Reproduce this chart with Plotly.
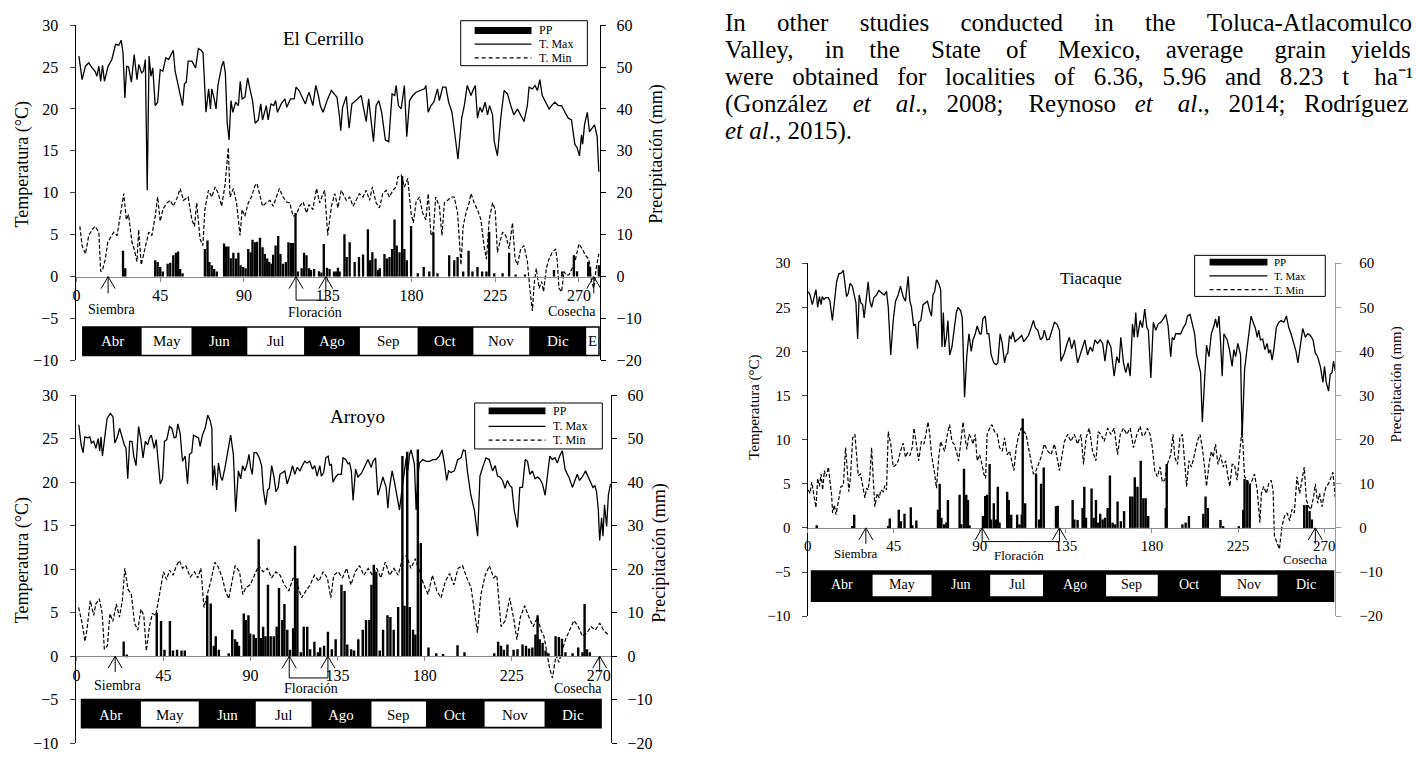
import plotly.graph_objects as go

SERIF = "Liberation Serif"
W, H = 1416, 762

# ======================= DATA =======================
# ---------- El Cerrillo ----------
cer_tmax_day = [1.3,3,4.8,6.6,8.4,10,11,12,13,14,15,17,19,21,22.7,24,25,26,27,28,29.5,31,32.5,33.5,35,36,37,38,39,40,41,42.3,43.6,45,46.4,48,49.5,51,52,53,54,55.7,57,58,59,60,62,64,65.5,67,68,69.6,71,72,72.7,74,75,76,78,79,80,81,82,83,84,85.5,87,88,89,90.5,92,93,94.6,96,97.7,99,100,102,103,104.5,106,107,108,110,112,113,115,117,118,119.6,121,123,124,125,127,128.6,130,131,132.5,134,135,137,139,140,141.4,142,143,145,146.5,148,149,151,153,154,155.7,157,159.6,161,162.5,164,166,167.8,169.6,171,171.8,173,174.5,176.2,177.5,179,180.7,182.5,185,187,187.8,189,190.5,192,194,195,196.8,198.5,200,201.8,203.6,205,207,208.4,210,212,213,214.3,215.5,216.8,218,219.6,220.9,222,223.6,224.5,226.2,228,229.8,231.6,233.4,235,237,238.7,240.5,242.3,243.2,245,246.4,247.7,249,250.3,252,254,255.3,257,258.9,260.7,262.5,264.3,266,267.8,269,270.3,271.4,272,273,274.5,275.7,277,278.4,279.8,280.7]
cer_tmax = [26.3,23.5,25.1,25.5,24.9,24.5,23.9,25.1,23.3,25.2,23.3,25.1,25.9,27.7,27.6,28.2,26.7,21.3,25.1,25.0,23.2,26.5,23.5,25.3,24.3,24.5,25.9,10.3,26.3,23.9,24.9,20.4,20.8,24.7,24.5,26.1,25.9,26.7,27.0,24.5,23.5,22.0,20.4,23.0,23.2,25.7,25.7,24.9,27.2,27.0,26.7,19.6,22.4,20.0,22.4,21.2,20.0,22.8,25.1,25.7,24.3,18.3,16.3,21.0,19.6,20.8,20.4,23.3,21.2,21.4,23.7,22.6,21.0,18.3,18.7,20.6,18.7,20.4,18.7,20.6,20.4,21.0,19.6,20.6,21.2,20.2,21.2,21.2,22.6,22.2,21.6,20.6,21.4,22.0,20.4,22.8,21.6,20.4,19.6,20.6,21.2,22.2,21.6,21.4,19.0,17.4,20.2,21.5,17.7,20.6,20.8,21.2,21.6,20.4,18.5,21.2,16.1,20.4,21.0,19.6,16.3,16.1,21.8,21.6,22.8,20.4,20.0,22.8,16.7,21.0,21.6,22.0,22.2,22.4,22.8,19.6,20.4,20.8,22.4,21.0,22.6,22.6,20.8,19.6,16.5,14.0,18.9,20.4,22.8,21.6,22.2,22.8,18.9,20.2,19.6,20.8,19.3,20.4,19.3,16.1,14.4,18.9,22.2,21.8,20.4,19.3,20.0,19.3,18.5,20.4,22.6,22.4,22.8,22.2,23.5,21.6,20.8,20.0,20.4,20.8,20.4,20.4,19.6,18.9,18.7,15.8,15.4,14.4,16.9,15.8,18.1,19.6,17.3,17.7,18.1,16.7,12.5]
cer_tmin_day = [1.8,3,4.8,6.6,8.4,10,12,13,14,15.5,16.8,18,20,21.8,23.6,25.4,26.8,28,29.8,31,32.5,33.4,34.8,36,37.5,38.8,40.5,42.3,43.6,45,46.4,48.6,50.4,52,53.9,55.7,57.5,60,62,63.4,64.6,66.4,67.9,69,70.9,72.7,74.5,76.2,78,79.8,81.6,82.5,84.3,86,87.9,89,90.5,92.3,94,96,97,98.6,100,102,104,105.7,107.5,109,111,112.9,114.6,116.4,118,120,121.8,123.6,125,127,129,130.7,132.5,133.4,135,137,138.8,140.5,142.3,145,146.8,148.6,150.3,152,154,155.7,157.5,159,161,162.8,164.6,166.4,168.2,170,171.8,172.7,174.5,176.2,178,179.8,181,182.5,184.3,186,187.8,189,190.5,191.8,193,195,196.4,197.7,199.5,201.2,203,204.8,206.6,207.8,209.3,211,212,213.7,215.5,217.3,219,220.3,221.8,223.6,225,226.2,227.5,229,230.7,232.5,234.3,235.7,237,238.7,240.5,242.3,243.6,245,245.9,247.1,248.6,250,251,252.5,253.9,255.7,257.5,258.4,259.3,260.7,262,263.2,264.6,266.4,268.2,270,271.8,273.6,275.3,276.8,278,279.3,280.7]
cer_tmin = [6.0,3.7,2.7,4.9,5.6,6.0,5.3,0.6,0.8,2.1,4.1,4.5,5.3,4.9,7.2,9.9,6.8,7.4,4.1,3.3,1.8,5.6,1.4,2.5,4.1,5.3,4.9,7.2,9.5,6.6,8.0,8.8,9.1,8.4,9.3,10.5,9.1,9.5,6.8,6.0,8.8,4.5,3.7,8.0,10.3,9.5,10.7,9.9,8.4,10.9,15.4,9.5,10.5,8.8,4.9,8.0,7.2,8.8,9.5,10.9,11.1,9.5,8.4,8.8,9.1,8.4,9.5,10.5,9.5,8.9,8.8,7.2,7.4,8.4,8.9,7.6,8.6,8.0,10.5,8.8,9.9,10.3,4.9,8.4,9.9,8.2,10.3,9.1,9.5,8.4,9.1,9.9,9.5,10.3,9.1,10.7,8.8,8.2,9.9,10.3,9.5,10.3,10.7,11.9,12.1,10.7,11.7,7.6,6.4,8.9,9.5,7.6,6.8,9.9,4.9,5.3,9.5,8.4,4.9,8.8,9.1,9.5,9.5,7.6,1.4,6.0,7.6,8.8,9.9,8.8,8.0,6.8,3.7,2.1,6.8,8.8,8.0,2.9,4.1,5.3,4.9,3.3,6.4,2.1,1.4,3.3,3.7,1.8,-1.4,-4.1,-1.0,1.0,-1.4,-0.6,-1.8,1.0,2.1,2.9,3.3,1.8,-1.4,-1.8,0.6,0.2,0.2,1.0,2.1,3.9,3.3,2.5,2.1,-0.6,-1.4,1.0,2.7]
cer_pp_day = [25,26.2,42.3,43.6,45,46.4,49,50.4,52,53.4,54.6,55.7,57,69,70.4,71.4,72.7,74,75.4,79.3,80.4,81.6,82.9,84.3,85.7,87,88.2,89.6,90.9,92.3,93.6,94.6,95.9,97,98.6,100,101.2,102.5,103.6,104.8,105.7,107,108.4,109.6,111,112.5,113.9,115.2,116.4,117.7,119,121,122.3,123.6,125,126,127.7,130.3,131.6,132.9,134.6,136,138.4,139.6,140.5,141.4,144,145.2,146.8,149.5,151.8,154,156.6,157.8,159,160.7,162,163,165.5,166.8,168.2,169.6,170.9,172.1,173.6,175,176.2,177.5,179.8,183.4,186.6,189.6,191.8,194,200.3,203,204.8,207.8,210.7,212.8,215.5,218,220.3,221.8,224.5,229,232.5,236,241,256.6,261,267.3,269,275,276,280.7]
cer_pp = [6.2,2.0,3.9,3.5,2.3,1.2,3.1,3.3,5.1,5.7,6.0,1.8,0.8,6.6,8.6,3.5,2.7,1.8,1.2,7.9,7.2,7.2,4.4,5.7,4.3,5.7,2.7,2.3,2.0,6.6,5.8,8.8,8.2,8.3,9.3,7.0,5.4,4.3,3.5,3.1,5.2,7.4,9.7,5.4,3.1,3.5,8.2,8.0,8.0,15.2,1.2,2.0,5.7,5.1,2.0,1.6,1.8,1.3,1.0,7.8,2.1,1.8,1.2,1.2,2.1,1.2,10.1,4.7,8.2,3.5,4.7,5.3,11.3,3.9,5.8,4.3,1.6,2.0,5.4,4.3,4.7,6.6,13.6,7.4,5.8,24.0,6.6,3.9,12.1,0.8,2.3,1.2,10.5,0.8,5.1,3.9,4.7,1.2,6.2,1.2,2.3,1.2,1.2,10.7,0.8,0.8,5.7,0.5,0.5,1.6,1.2,5.1,1.3,3.5,2.3,2.7]

# ---------- Arroyo ----------
aro_tmax_day = [1.2,2.4,3.4,4.3,5.8,6.9,7.7,8.9,10,11.2,12,12.7,13.4,14.6,15.8,17.5,18.9,19.8,21,22.3,23.5,24.7,25.6,26.5,27.5,28.7,29.6,30.8,32.1,33.3,34.4,35.6,36.8,37.8,38.7,39.5,40.2,41.2,42.1,43.3,44.5,45.5,46.7,48.1,49.3,50.5,51.5,52.4,53.6,54.8,56.2,57.4,58.4,59.6,60.5,61.9,63.1,63.9,65.1,66.5,67.9,69.1,70,70.4,71.3,72.5,73.4,74.6,75.4,76.8,78,79.7,81.1,82.3,83.7,84.9,85.9,87.1,88.3,89.2,90,90.9,91.8,93.1,94.5,95.7,96.6,97.8,98.8,99.7,100.9,102.1,103.1,104.3,105.2,106.5,107.7,108.9,110.3,111.7,112.9,114.1,115.5,116.8,118,119.2,120.6,122,123.2,124.4,125.8,126.6,127.8,128.9,130.1,130.9,131.8,132.6,134,135.2,136.9,137.8,139.2,140.4,141.2,142.1,143,144.3,145.5,147.3,149,150.7,152.4,153.3,154.6,155.8,157,158.4,160.1,161,161.9,163.2,164.4,166.2,167,168.4,169.6,170.5,171.3,172.2,173,173.9,174.7,175.6,176.5,177.3,179,180.8,182.5,184.2,185.9,187.6,189,190.2,191.4,192.4,193.6,195.4,197.1,198.8,200,201,202.2,203.9,205.7,207.4,208.6,210,211.7,213.4,215.1,216.5,217.7,218.9,220.3,221.6,222.8,224.1,225.1,226.3,228,229.2,230.6,232,233.2,234.4,235.7,237.1,238.3,239.5,240.9,242.3,243.5,244.7,246,247.4,248.6,249.8,251.2,252.6,253.8,254.6,256.4,257.7,258.9,260.1,261.5,263.2,264.6,265.8,267,268,268.9,269.8,270.5,271.5,272.2,273,274.1,275,276.1]
aro_tmax = [26.6,24.3,23.4,25.2,25.1,25.2,24.5,24.7,23.9,25.0,23.6,25.2,23.0,24.9,27.3,27.9,27.5,24.5,25.1,26.2,25.1,24.3,23.9,20.4,24.7,24.7,23.0,21.9,26.4,24.9,22.8,24.7,24.3,25.1,25.4,24.7,23.9,24.9,22.6,19.8,20.4,24.7,24.9,26.4,26.2,25.1,25.2,26.7,25.6,22.4,23.0,19.8,23.2,23.4,25.4,25.2,25.1,24.1,25.4,26.2,27.7,27.1,26.2,19.6,21.9,19.1,22.2,20.6,20.2,21.7,23.2,25.4,23.2,16.6,21.3,20.4,21.9,21.3,22.2,23.2,21.7,20.9,23.4,23.4,22.8,21.9,19.1,17.4,19.1,19.3,21.9,20.6,18.9,19.4,20.9,21.1,21.3,19.8,20.7,21.9,20.9,21.7,21.3,21.9,22.4,22.2,22.4,21.5,21.9,20.7,21.9,20.7,21.1,22.8,23.0,21.9,22.1,20.0,20.6,20.9,20.9,22.8,22.6,22.1,22.2,21.3,17.9,21.5,20.6,21.0,21.9,22.6,21.7,22.4,22.8,18.5,19.4,20.6,19.4,17.0,19.4,21.3,20.0,17.6,16.8,19.4,21.7,22.8,21.3,23.2,23.7,22.6,22.1,16.8,20.6,22.2,22.6,22.4,22.4,22.6,22.6,23.0,23.7,22.2,20.2,21.3,21.1,21.3,22.6,22.8,23.7,23.6,21.1,18.5,16.8,13.8,20.7,21.7,22.8,22.6,21.3,21.9,20.7,20.6,20.2,19.3,20.2,19.6,19.4,16.8,14.8,19.4,19.4,22.6,22.4,20.9,21.3,20.4,20.6,20.4,19.8,18.5,20.6,23.0,22.6,22.8,22.2,23.0,23.6,21.5,20.9,20.6,19.4,20.2,20.9,20.2,20.6,21.3,20.6,20.2,19.4,19.6,18.9,16.8,13.3,15.9,13.8,17.4,14.9,18.5,19.8]
aro_tmin_day = [1.1,2.9,4.4,5.5,7.1,8.9,10,11.8,13.3,14.4,16,17.3,18.8,20.6,22.2,23.7,25,26.6,28.4,30,31.7,33.3,34.8,36.1,37.7,39.2,41,42.6,43.7,45,46.6,48.1,49.9,51.7,53.2,54.8,56.5,58.8,61,62.7,64.3,65.9,67.6,69.4,71.6,73.2,75.4,77,78.7,80.5,82,84.3,86,87.6,89.8,92,94.2,96.5,98.7,100.9,103.1,105.3,107.5,109.8,112,114.2,116.4,118.6,120.8,123,125.3,127.5,129.7,131.5,133,135.3,137.5,139.7,141.9,144.1,146.3,148.6,150.8,153,155.2,157.4,159.6,161.9,164.1,166.3,168.5,170.7,172.9,175.2,177.4,179.6,181.8,184,186.3,188.5,190.7,192.9,195.1,197.3,199.6,201.8,204,206.2,207.3,209.1,211.3,213.5,215.7,217.3,219.5,221.7,224,226.2,227.7,229.5,231.7,233.9,236.1,238.4,240.1,241.7,243.2,244.6,246.1,247.9,249.4,251,252.8,255,257.2,259.4,261.6,263.9,266,268.3,270.5,272.7,274.9]
aro_tmin = [5.6,3.8,1.7,3.2,6.4,4.7,6.0,6.6,4.9,0.8,1.2,4.9,4.0,6.0,4.5,6.4,10.1,7.7,7.1,3.8,3.0,5.4,4.7,0.6,3.4,4.9,4.7,6.6,8.2,9.7,8.8,9.9,9.3,10.4,11.0,10.1,10.4,9.1,9.7,9.0,10.1,5.6,7.1,8.6,10.8,10.3,9.0,7.5,6.6,8.6,10.4,9.7,7.1,7.9,8.2,9.3,10.4,9.7,10.1,9.0,9.7,9.3,8.2,7.5,9.0,8.2,6.7,7.5,8.2,9.3,8.6,9.7,9.0,6.7,9.3,9.7,9.0,10.1,8.2,9.7,10.4,9.3,10.1,9.3,10.1,9.0,10.8,9.3,10.1,9.3,11.2,11.6,10.1,11.2,9.7,8.2,7.1,9.3,7.5,6.7,8.6,9.5,8.2,10.1,10.4,9.0,7.9,4.1,2.7,7.1,9.3,10.4,9.0,9.3,3.4,4.1,6.7,4.1,1.9,4.5,5.8,4.5,3.4,4.5,3.0,2.3,0.4,-1.4,-2.5,0.1,-0.7,0.4,1.9,3.0,4.1,3.4,2.3,2.7,3.4,3.0,3.8,2.9,2.5]
aro_pp_day = [24.4,26,41.5,43.7,45.5,48.3,49.9,52,54.3,56,67.6,69.4,71,72,73.6,78.7,80.5,82,83,84,86.5,87.6,88.9,89.8,91.6,92.7,94.2,95.3,96.5,97.7,99,100.4,102,103.5,104.7,106.4,107.5,109,110.4,112,113,114.2,116,117.5,119.3,120.8,123,124.8,126,128,130,132,134,137,138.6,140,142,143.5,145.7,148,149.7,151.4,152.5,153.7,155,156.8,158.5,160.8,162.3,164,166.3,168.5,169.6,171,172.3,174,175.2,176.5,178,182,186,189.5,197,200.6,216,218,219.5,221,222.8,226,228,230.6,232.4,234,235.7,237.3,238.4,239.5,241,242.5,244,247.7,249.4,251,252.8,256.5,259.4,261.6,262.7,263.9,265.4]
aro_pp = [3.4,0.4,10.0,8.1,1.5,8.1,1.3,1.5,1.3,1.3,13.9,12.1,2.4,4.6,1.5,0.7,6.1,3.9,3.3,2.4,9.8,8.3,9.4,5.2,5.0,4.2,26.9,4.2,6.8,4.6,16.4,4.6,4.6,6.8,15.7,8.3,12.0,6.1,1.5,6.4,25.4,17.9,0.9,6.8,6.8,1.6,3.3,0.9,2.0,2.4,5.6,1.6,3.9,16.4,15.0,2.7,1.6,1.3,3.9,6.1,8.3,8.3,16.4,21.0,19.4,1.3,6.1,9.4,9.0,6.1,11.3,46.0,11.6,47.0,11.3,6.1,5.0,47.5,26.0,2.0,0.7,0.5,2.5,0.9,0.7,3.3,2.4,1.5,2.7,1.5,1.6,2.7,2.4,1.8,2.0,5.0,9.4,3.9,3.1,1.3,0.7,4.6,4.4,4.0,0.9,0.7,2.0,0.9,12.0,1.6,0.9]

# ---------- Tiacaque ----------
tia_tmax_day = [0.3,1.2,2.4,3.5,4.3,5.2,6.1,7,7.6,8.5,9.4,10.8,11.6,12.9,13.9,15.1,16.3,17.7,18.6,19.5,20.3,21.2,22.1,23.3,24.3,25.2,26.1,26.9,27.8,28.7,29.5,30.8,31.6,32.5,33.4,34.6,36,37.2,38.6,40,41.2,42.1,43.4,44.7,45.9,47.3,48.5,49.9,51.1,52.5,53.4,54.2,55.4,56.3,57.4,58,59.1,60.3,61.5,62.6,63.8,64.7,65.5,66.4,67.3,68.5,69.5,70.2,70.9,71.6,72.5,73.3,74.2,75.4,76.5,77.7,78.6,80,80.8,82,83.2,84.3,85.5,86.4,87.6,88.6,89.9,90.7,91.6,92.8,93.8,94.7,95.9,97.3,98.5,99.4,100.6,101.7,102.9,103.8,104.6,105.5,106.4,107.2,108.4,109.5,110.7,111.9,113,114.2,115.4,116.8,118,119,120.3,121.7,122.9,123.7,125.1,126.3,127.6,129,130.3,131.6,132.4,134.2,135.6,136.8,138,139.4,141.1,142.5,143.7,144.9,146.3,147.7,148.9,150.2,151.5,152.9,154.2,155.4,156.8,158.5,160.2,161.6,162.8,163.7,165.1,166.3,167.5,168.6,169.8,170.7,171.5,172.4,173.8,175,176.2,177.3,178.1,179.4,180.7,182,183.2,184.6,186,187.2,188.4,189.8,190.6,191.5,192.4,193.6,195,196.4,197.6,198.5,199.9,201.1,202.3,203.3,204.6,205.4,206.3,207.5,208.5,209.8,211,212.4,213.2,214.1,215,215.8,216.7,217.6,218.5,219.3,220.5,221.9,222.8,223.7,224.9,226.3,227.1,228.4,229.8,231.1,231.8,233.2,234.1,235,235.8,236.7,237.9,239,240.2,241,241.9,242.8,243.7,245,246.3,247.5,248.9,250.3,251.5,252.7,254.1,255.3,256.3,257.6,258.8,260.2,261.4,262.8,264.2,265.4,266.6,268,269.4,270.2,271.1,272.3,273.2,274.1,274.9,275.8]
tia_tmax = [26.8,26.4,25.3,26.2,27.0,25.0,26.2,25.3,26.2,25.9,26.1,26.1,25.7,23.5,25.9,27.9,28.8,28.9,29.2,27.9,26.2,26.6,27.7,27.4,26.2,25.5,21.4,26.4,25.5,25.3,23.8,26.8,27.9,25.7,25.0,26.1,26.4,26.9,26.6,26.4,26.8,25.0,19.6,23.5,25.7,26.4,27.4,26.2,25.7,28.5,25.7,25.1,22.9,23.1,20.3,23.3,23.5,25.3,25.5,25.7,24.6,24.0,26.4,26.8,28.1,27.7,27.0,20.5,24.4,20.5,21.6,23.5,19.6,20.5,22.4,24.4,25.0,24.6,23.8,14.8,19.6,22.0,20.0,21.3,22.0,22.9,22.0,22.0,23.7,24.0,22.0,22.0,19.6,18.7,18.5,18.7,22.0,20.9,18.7,19.6,19.8,21.8,21.4,22.2,21.1,21.3,21.6,21.8,21.1,21.4,21.8,22.7,23.5,22.7,22.4,21.3,21.6,22.4,21.3,21.4,22.4,23.3,23.1,22.4,18.9,19.8,20.9,21.6,20.3,21.3,18.7,19.6,20.5,21.3,19.6,20.5,20.0,21.3,20.9,21.3,20.9,18.9,21.3,20.5,17.2,19.4,18.7,21.6,18.7,17.6,18.7,17.2,23.1,21.6,24.4,21.6,23.5,22.7,24.8,22.7,22.4,17.0,23.3,22.4,23.1,23.3,23.7,24.2,22.9,19.4,21.6,21.3,22.0,22.0,22.0,22.7,23.1,24.0,24.2,23.1,22.0,19.6,18.3,17.6,12.0,16.8,20.7,19.4,22.0,22.9,23.7,22.7,24.0,21.3,17.2,22.0,21.6,21.3,20.2,18.3,20.2,19.4,20.9,19.6,10.2,17.9,20.5,22.4,24.0,23.1,22.6,21.6,22.4,21.3,21.4,20.2,20.9,19.8,20.2,19.0,20.2,22.7,23.3,23.5,23.3,24.0,22.7,22.0,20.9,20.0,18.7,21.1,22.6,21.6,22.0,21.8,21.3,19.8,19.4,18.3,16.5,18.3,16.5,15.5,17.4,17.6,18.9,17.8]
tia_tmin_day = [0.3,1.2,2.1,3.3,4.3,5.2,6.1,7,7.8,8.7,9.6,10.8,11.6,12.5,13,13.9,14.8,16,17.4,18.6,19.8,20.7,21.5,22.4,23.5,24.7,25.5,26.4,27.6,28.7,29.9,30.8,31.6,32.5,33.4,34.2,35.1,36.3,37.4,38.2,39.5,40.3,41.2,42.1,43.4,44.7,45.9,47.3,48.5,49.9,51.1,52.1,53.4,54.6,55.6,56.8,58,59.4,60.8,62,62.9,63.8,64.7,66.4,67.3,68.5,69.5,70.7,71.6,73,74.2,75.4,76.5,77.7,78.9,80.3,81.2,82,83.2,84.3,85.5,86.4,87.6,88.6,89.9,91.1,92.1,93,93.8,95.1,96.3,97.7,99.1,100.3,101.7,102.9,104.3,105.5,106.7,107.8,109,110.4,111.6,113,114.2,115.4,116.8,118,119.4,120.6,122,123.7,125.5,127.2,129,130.7,131.6,132.8,134.2,135.9,137.6,139.4,141.1,142.9,144.2,145.5,147.2,148.9,150.7,151.9,153.3,155,156.8,158.5,160.2,162,163.4,165.1,166.8,168.6,170.3,172.1,173.8,175,176.2,177.6,179,180.2,181.4,182.8,184.2,185.4,186.7,188,189.8,191,191.9,193.3,194.6,195.9,196.7,198.1,199.3,200.6,201.9,203.7,205.1,206.3,207.5,208.5,209.8,211,212,213.2,214.5,215.8,217.2,218.5,219.7,220.7,221.9,223.1,224.5,225.8,227.1,228.4,229.8,231.1,232.4,233.6,235,236.4,237.2,238.4,239.8,241,242.3,243.3,244,245.4,246.6,248,249.2,250.6,252,253.2,254.4,255.8,257.2,258.4,259.6,260.7,261.9,263.1,264.5,265.4,266.6,267.6,268.9,270.1,271.1,272.3,273.5,274.6,275.8]
tia_tmin = [4.3,3.9,5.2,3.4,2.3,5.6,4.7,6.1,4.3,6.5,5.8,6.9,5.4,3.7,1.7,2.6,1.5,2.8,4.7,4.8,9.1,6.5,4.1,5.9,10.2,10.6,8.0,5.9,6.1,4.7,3.4,4.5,4.3,5.9,9.1,5.8,2.4,3.9,3.4,4.3,4.1,4.8,4.3,10.9,9.5,6.9,7.1,7.6,8.7,9.6,8.0,8.5,8.2,9.1,11.3,9.5,7.6,9.8,9.5,10.9,12.0,10.6,8.3,6.1,4.5,8.0,9.8,9.1,8.7,10.6,11.7,9.8,9.5,8.7,7.6,10.2,12.0,10.6,8.9,10.6,10.2,9.5,10.6,7.6,8.3,7.2,6.1,5.6,10.6,11.3,11.7,10.9,10.6,9.1,8.7,10.2,8.3,8.7,7.4,6.5,9.1,10.6,11.3,10.9,10.6,9.1,7.2,6.1,6.5,7.2,8.0,9.5,8.7,8.3,9.5,7.6,6.5,8.0,9.8,10.6,9.8,10.6,9.5,10.6,7.2,10.2,11.3,8.7,7.6,10.9,10.6,9.8,11.3,10.6,11.3,8.3,10.6,11.3,10.6,11.3,9.1,10.6,11.5,10.4,10.6,11.3,10.6,9.1,6.5,5.8,6.9,5.2,5.4,7.2,8.3,10.6,8.0,7.2,10.2,10.6,8.3,4.7,7.6,6.9,8.0,9.8,10.6,9.1,6.9,4.7,7.2,8.7,8.0,9.5,7.2,8.3,6.9,7.6,5.8,4.7,7.2,7.2,5.4,8.7,11.3,5.8,5.4,4.7,5.4,6.1,4.3,0.6,3.9,4.7,3.9,5.0,5.4,4.3,-0.9,-1.6,-2.4,0.2,1.3,1.7,0.8,2.1,1.7,5.8,3.9,5.4,6.9,3.2,2.4,2.1,3.5,5.0,2.8,3.9,2.4,3.9,4.7,5.0,5.8,6.3,3.5]
tia_pp_day = [4.7,23.3,24.3,42.1,42.9,47.6,48.7,50.6,53.9,54.7,56.8,68.1,69,69.9,71.3,72.5,73.3,79.4,80.3,81.7,82.9,83.8,84.6,91.6,92.8,93.8,95.1,95.9,97.3,98.5,99.4,100.3,104.3,105.1,106.4,109.5,110.7,111.9,112.4,113.7,119.4,121,122,123.4,129.8,130.7,138.5,139.4,141.1,143.7,144.6,145.5,148.4,149.5,150.7,151.9,152.9,154.2,155.4,156.8,158,159.4,160.6,162,163.7,165.4,168.6,169.8,171,172.4,174.1,175.5,176.7,178,187.2,187.7,195.9,197.6,199.3,206.8,208,209.2,215.8,217.2,225.4,227.7,228.4,229.8,231.1,259.6,261,262.4,263.6]
tia_pp = [0.6,0.4,3.0,0.4,2.1,4.1,1.5,3.2,4.7,0.6,1.7,4.1,10.0,2.3,0.8,1.2,6.3,7.5,0.8,13.4,7.5,6.3,0.6,2.7,7.2,7.5,14.5,1.9,5.6,1.9,9.3,1.2,8.2,6.3,3.0,3.0,0.8,3.0,24.8,5.6,12.3,1.9,10.0,13.7,4.9,5.0,6.3,1.9,1.8,4.5,9.3,2.3,8.9,2.3,6.3,1.2,3.2,1.9,2.3,4.5,11.9,1.2,0.8,6.0,1.5,3.8,7.1,7.1,11.5,9.3,15.2,6.7,6.7,2.7,4.5,14.5,0.8,1.2,2.7,3.2,7.1,4.5,1.8,0.4,0.4,4.1,11.1,10.8,10.0,5.2,5.2,3.8,1.9]

# ---------- calendar / events ----------
month_names = ["Abr", "May", "Jun", "Jul", "Ago", "Sep", "Oct", "Nov", "Dic"]
cer_month_names = month_names + ["E"]
cer_month_edges = [3.4, 35, 61.8, 91.8, 122.3, 152.3, 183.3, 213.3, 243.3, 273.9, 280.8]
aro_month_edges = [2.2, 33.3, 63.2, 92.7, 121.5, 152.5, 180.7, 211, 242, 271.6]
tia_month_edges = [1.6, 33.9, 64.7, 95.4, 123, 156, 183, 216, 245.6, 275.3]

cer_siembra, cer_floracion, cer_cosecha = 17, [118, 134], 278
aro_siembra, aro_floracion, aro_cosecha = 20, [110, 130], 270.5
tia_siembra, tia_floracion, tia_cosecha = 30.4, [91.2, 131.6], 265.4

day_ticks = [0, 45, 90, 135, 180, 225, 270]
temp_ticks = [-10, -5, 0, 5, 10, 15, 20, 25, 30]
pp_ticks = [-20, -10, 0, 10, 20, 30, 40, 50, 60]
legend_names = ["PP", "T. Max", "T. Min"]

para_words = [
    ["In", "other", "studies", "conducted", "in", "the", "Toluca-Atlacomulco"],
    ["Valley,", "in", "the", "State", "of", "Mexico,", "average", "grain", "yields"],
    ["were", "obtained", "for", "localities", "of", "6.36,", "5.96", "and", "8.23", "t",
     "ha\u207b\u00b9"],
    ["(González", "<i>et</i>", "<i>al</i>.,", "2008;", "Reynoso", "<i>et</i>", "<i>al</i>.,",
     "2014;", "Rodríguez"],
    ["<i>et</i>", "<i>al</i>.,", "2015)."],
]
# extra (non-breaking) spaces per word gap, to mimic the justified paragraph
para_gaps = [
    [4, 4, 4, 4, 4, 4],
    [4, 3, 4, 3, 4, 3, 4, 3],
    [2, 2, 2, 2, 2, 2, 2, 2, 2, 3],
    [3, 3, 2, 3, 2, 3, 2, 2],
    [0, 0],
]

# ======================= FIGURE =======================
def px(x):
    return x / W


def py(y):
    return 1 - y / H


fig = go.Figure()
shapes, annots = [], []
layout = {}


def panel(cfg):
    xa, yl, yr = cfg["xa"], cfg["yl"], cfg["yr"]
    fig.add_trace(go.Bar(x=cfg["pp_d"], y=cfg["pp"], width=1.25, name="PP",
                         marker=dict(color="black", line=dict(width=0)),
                         xaxis=xa, yaxis=yr, showlegend=False))
    fig.add_trace(go.Scatter(x=cfg["tmax_d"], y=cfg["tmax"], mode="lines", name="T. Max",
                             line=dict(color="black", width=1.3),
                             xaxis=xa, yaxis=yl, showlegend=False))
    fig.add_trace(go.Scatter(x=cfg["tmin_d"], y=cfg["tmin"], mode="lines", name="T. Min",
                             line=dict(color="black", width=1.2, dash="4px,2px"),
                             xaxis=xa, yaxis=yl, showlegend=False))

    x0, x1 = cfg["xdom"]
    y0, y1 = cfg["ydom"]
    xn = xa.replace("x", "xaxis")
    ynl = yl.replace("y", "yaxis")
    ynr = yr.replace("y", "yaxis")
    tf = cfg["tick_font"]
    layout[xn] = dict(domain=[x0, x1], range=[0, cfg["xmax"]], anchor="free",
                      position=y0 + 0.25 * (y1 - y0),
                      showline=True, linecolor="#8c8c8c", linewidth=1.2,
                      ticks="outside", ticklen=4, tickcolor="#8c8c8c",
                      tickvals=day_ticks, showgrid=False, zeroline=False,
                      tickfont=dict(family=SERIF, size=tf, color="black"))
    layout[ynl] = dict(domain=[y0, y1], range=[-10, 30], anchor=xa, side="left",
                       showline=True, linecolor="black", linewidth=1.2,
                       ticks="outside", ticklen=5, tickvals=temp_ticks,
                       ticklabelstandoff=cfg["lstand"],
                       showgrid=False, zeroline=False,
                       tickfont=dict(family=SERIF, size=tf, color="black"))
    layout[ynr] = dict(domain=[y0, y1], range=[-20, 60], anchor=xa, side="right",
                       overlaying=yl, showline=True, linecolor=cfg["rcolor"],
                       linewidth=1.2, ticks="outside", ticklen=5, tickcolor=cfg["rcolor"],
                       tickvals=pp_ticks, ticklabelstandoff=cfg["rstand"],
                       showgrid=False, zeroline=False,
                       tickfont=dict(family=SERIF, size=tf, color="black"))

    # month band
    edges, names = cfg["edges"], cfg["months"]
    b0, b1 = cfg["band"]
    if cfg["band_style"] == "outline":
        shapes.append(dict(type="rect", xref=xa, yref=yl, x0=edges[0], x1=edges[-1],
                           y0=b0, y1=b1, line=dict(color="black", width=1.5),
                           fillcolor="white", layer="above"))
        for i in range(len(names)):
            if i % 2 == 0:
                shapes.append(dict(type="rect", xref=xa, yref=yl, x0=edges[i], x1=edges[i + 1],
                                   y0=b0, y1=b1, line=dict(width=0), fillcolor="black",
                                   layer="above"))
    else:
        shapes.append(dict(type="rect", xref=xa, yref=yl, x0=edges[0], x1=edges[-1],
                           y0=b0, y1=b1, line=dict(width=0), fillcolor="black",
                           layer="above"))
        w0, w1 = cfg["inset"]
        for i in range(len(names)):
            if i % 2 == 1:
                shapes.append(dict(type="rect", xref=xa, yref=yl, x0=edges[i], x1=edges[i + 1],
                                   y0=w0, y1=w1, line=dict(width=0), fillcolor="white",
                                   layer="above"))
    for i, nm in enumerate(names):
        annots.append(dict(xref=xa, yref=yl, x=(edges[i] + edges[i + 1]) / 2,
                           y=cfg["month_y"], text=nm, showarrow=False,
                           xanchor="center", yanchor="middle",
                           font=dict(family=SERIF, size=cfg["month_font"],
                                     color="white" if i % 2 == 0 else "black")))

    # event arrows (shaft + open "^" head)
    tail = cfg["arrow_tail"]
    f1, f2 = cfg["floracion"]
    for d in [cfg["siembra"], f1, f2, cfg["cosecha"]]:
        ay = cfg["flor_line"] if d in (f1, f2) else tail
        shapes.append(dict(type="line", xref=xa, yref=yl, x0=d, x1=d, y0=ay, y1=0,
                           line=dict(color="black", width=1)))
        shapes.append(dict(type="path", xref=xa, yref=yl, xsizemode="pixel",
                           ysizemode="pixel", xanchor=d, yanchor=0,
                           path="M-7,-12 L0,0 L7,-12", line=dict(color="black", width=1)))
    shapes.append(dict(type="line", xref=xa, yref=yl, x0=f1, x1=f2,
                       y0=cfg["flor_line"], y1=cfg["flor_line"],
                       line=dict(color="black", width=1)))
    ef = cfg["event_font"]
    for label, (lx, ly) in cfg["event_labels"].items():
        annots.append(dict(xref=xa, yref=yl, x=lx, y=ly, text=label, showarrow=False,
                           xanchor="center", yanchor="middle",
                           font=dict(family=SERIF, size=ef, color="black")))

    # titles
    tx, ty = cfg["title_pos"]
    annots.append(dict(xref="paper", yref="paper", x=px(tx), y=py(ty), text=cfg["title"],
                       xanchor="center", yanchor="middle", showarrow=False,
                       font=dict(family=SERIF, size=cfg["title_font"], color="black")))
    lx, ly = cfg["ltitle_pos"]
    annots.append(dict(xref="paper", yref="paper", x=px(lx), y=py(ly),
                       text="Temperatura (°C)", textangle=-90, showarrow=False,
                       xanchor="center", yanchor="middle",
                       font=dict(family=SERIF, size=cfg["axis_title_font"], color="black")))
    rx, ry = cfg["rtitle_pos"]
    annots.append(dict(xref="paper", yref="paper", x=px(rx), y=py(ry),
                       text="Precipitación (mm)", textangle=-90, showarrow=False,
                       xanchor="center", yanchor="middle",
                       font=dict(family=SERIF, size=cfg["axis_title_font"], color="black")))

    # legend box (drawn)
    bx0, by0, bx1, by1 = cfg["legend_box"]
    sx0, sx1, tx0 = cfg["legend_sample"]
    rows = cfg["legend_rows"]
    shapes.append(dict(type="rect", xref="paper", yref="paper", x0=px(bx0), x1=px(bx1),
                       y0=py(by1), y1=py(by0), line=dict(color="black", width=1),
                       fillcolor="white", layer="above"))
    shapes.append(dict(type="rect", xref="paper", yref="paper", x0=px(sx0), x1=px(sx1),
                       y0=py(rows[0] + 3.5), y1=py(rows[0] - 3.5), line=dict(width=0),
                       fillcolor="black", layer="above"))
    shapes.append(dict(type="line", xref="paper", yref="paper", x0=px(sx0), x1=px(sx1),
                       y0=py(rows[1]), y1=py(rows[1]), line=dict(color="black", width=1.2),
                       layer="above"))
    shapes.append(dict(type="line", xref="paper", yref="paper", x0=px(sx0), x1=px(sx1),
                       y0=py(rows[2]), y1=py(rows[2]),
                       line=dict(color="black", width=1.2, dash="4px,3px"), layer="above"))
    for nm, ry_ in zip(legend_names, rows):
        annots.append(dict(xref="paper", yref="paper", x=px(tx0), y=py(ry_), text=nm,
                           xanchor="left", yanchor="middle", showarrow=False,
                           font=dict(family=SERIF, size=cfg["legend_font"], color="black")))


panel(dict(xa="x", yl="y", yr="y2",
           tmax_d=cer_tmax_day, tmax=cer_tmax, tmin_d=cer_tmin_day, tmin=cer_tmin,
           pp_d=cer_pp_day, pp=cer_pp,
           xdom=[px(72.7), px(598)], ydom=[py(360.5), py(17.5)], xmax=281.5,
           rcolor="black", tick_font=16, lstand=9, rstand=7,
           edges=cer_month_edges, months=cer_month_names, band=(-6.0, -9.4),
           band_style="outline", month_y=-7.7, month_font=15,
           siembra=cer_siembra, floracion=cer_floracion, cosecha=cer_cosecha,
           arrow_tail=-2.0, flor_line=-2.8, event_font=14,
           event_labels={"Siembra": (19, -3.9), "Floración": (128, -4.3),
                         "Cosecha": (266.4, -4.2)},
           title="El Cerrillo", title_pos=(320, 31), title_font=19,
           ltitle_pos=(18, 160), rtitle_pos=(655, 150), axis_title_font=18,
           legend_box=(458, 13, 585, 59), legend_sample=(472, 529, 535),
           legend_rows=(23, 37, 51), legend_font=12))

panel(dict(xa="x2", yl="y3", yr="y4",
           tmax_d=aro_tmax_day, tmax=aro_tmax, tmin_d=aro_tmin_day, tmin=aro_tmin,
           pp_d=aro_pp_day, pp=aro_pp,
           xdom=[px(72.7), px(609)], ydom=[py(752), py(396)], xmax=276.5,
           rcolor="black", tick_font=16, lstand=9, rstand=7,
           edges=aro_month_edges, months=month_names, band=(-4.9, -8.3),
           band_style="inset", inset=(-5.2, -8.1), month_y=-6.7, month_font=15,
           siembra=aro_siembra, floracion=aro_floracion, cosecha=aro_cosecha,
           arrow_tail=-1.8, flor_line=-2.5, event_font=14,
           event_labels={"Siembra": (21, -3.4), "Floración": (121, -3.7),
                         "Cosecha": (259.4, -3.7)},
           title="Arroyo", title_pos=(355, 418), title_font=19,
           ltitle_pos=(18, 565), rtitle_pos=(657, 558), axis_title_font=18,
           legend_box=(472, 404, 600, 451), legend_sample=(486, 543, 549),
           legend_rows=(412, 428, 442), legend_font=12))

panel(dict(xa="x3", yl="y5", yr="y6",
           tmax_d=tia_tmax_day, tmax=tia_tmax, tmin_d=tia_tmin_day, tmin=tia_tmin,
           pp_d=tia_pp_day, pp=tia_pp,
           xdom=[px(806), px(1335)], ydom=[py(622), py(261)], xmax=275.8,
           rcolor="#9a9a9a", tick_font=15, lstand=8, rstand=15,
           edges=tia_month_edges, months=month_names, band=(-4.8, -8.4),
           band_style="inset", inset=(-5.3, -7.75), month_y=-6.4, month_font=14,
           siembra=tia_siembra, floracion=tia_floracion, cosecha=tia_cosecha,
           arrow_tail=-1.8, flor_line=-1.55, event_font=13,
           event_labels={"Siembra": (25.5, -2.9), "Floración": (110.5, -3.1),
                         "Cosecha": (260, -3.6)},
           title="Tiacaque", title_pos=(1090, 277), title_font=17,
           ltitle_pos=(753, 408), rtitle_pos=(1396, 385), axis_title_font=15,
           legend_box=(1194, 253, 1325, 295), legend_sample=(1209, 1267, 1272),
           legend_rows=(260, 274, 288), legend_font=11))

# paragraph text (top right)
NBSP = "\u00a0"
for i, (words, gaps) in enumerate(zip(para_words, para_gaps)):
    line = words[0]
    for w, g in zip(words[1:], gaps):
        line += " " + NBSP * g + w
    annots.append(dict(xref="paper", yref="paper", x=px(721), y=py(14.5 + 27.8 * i),
                       xanchor="left", yanchor="middle", text=line, showarrow=False,
                       align="left", font=dict(family=SERIF, size=25, color="black")))

fig.update_layout(
    width=W, height=H, autosize=False,
    margin=dict(l=0, r=0, t=0, b=0),
    paper_bgcolor="white", plot_bgcolor="rgba(0,0,0,0)",
    barmode="overlay", hovermode=False,
    shapes=shapes, annotations=annots,
    **layout,
)

fig.write_html("out.html", config={"displayModeBar": False},
               post_script="document.body.style.margin='0px';")
